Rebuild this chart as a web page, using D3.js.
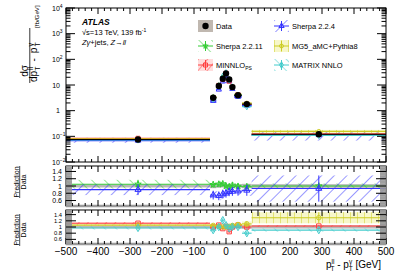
<!DOCTYPE html>
<html>
<head>
<script src="https://d3js.org/d3.v7.min.js"></script>
<style>
  body { margin: 0; background: #fff; overflow: hidden; }
  text { font-family: "Liberation Sans", Arial, sans-serif; fill: #000; }
</style>
</head>
<body>
<svg width="407" height="276"></svg>
<script>
// ---- data ----
const binEdges = [-500, -50, -30, -15, -5, 5, 15, 25, 50, 80, 500];
const dataVals = [0.075, 3.2, 9.1, 17.6, 28, 16.5, 8.3, 4.0, 1.8, 0.12];
const dataRelErr = [0.04, 0.06, 0.05, 0.04, 0.04, 0.04, 0.05, 0.05, 0.06, 0.05];

const sherpa2211Ratio = [1.05, 1.04, 1.05, 1.06, 1.0, 0.98, 1.02, 0.99, 0.98, 1.0];
const sherpa2211Err   = [0.12, 0.08, 0.08, 0.08, 0.08, 0.08, 0.08, 0.08, 0.08, 0.07];
const sherpa224Ratio  = [0.9, 0.75, 0.73, 0.78, 0.8, 0.84, 0.85, 0.86, 0.88, 0.93];
const sherpa224Err    = [0.15, 0.12, 0.12, 0.12, 0.12, 0.12, 0.12, 0.12, 0.15, 0.36];
const minnloRatio     = [1.12, 1.0, 1.06, 0.95, 1.02, 0.85, 1.0, 1.06, 1.0, 1.03];
const minnloErr       = [0.04, 0.04, 0.04, 0.04, 0.04, 0.04, 0.04, 0.04, 0.04, 0.03];
const mg5Ratio        = [1.06, 1.05, 1.02, 1.0, 1.0, 1.02, 1.05, 1.08, 1.1, 1.3];
const mg5Err          = [0.02, 0.05, 0.05, 0.05, 0.05, 0.05, 0.05, 0.05, 0.08, 0.18];
const matrixRatio     = [0.97, 0.9, 1.0, 1.22, 1.06, 0.96, 1.0, 1.0, 0.8, 0.9];
const matrixErr       = [0.05, 0.06, 0.06, 0.06, 0.06, 0.06, 0.06, 0.06, 0.06, 0.05];

const xTicks = [-500, -400, -300, -200, -100, 0, 100, 200, 300, 400, 500];
const yMainTicks = [1e-2, 1e-1, 1, 10, 1e2, 1e3, 1e4];
const yRatioTicks = [0.6, 0.8, 1, 1.2, 1.4];

const models = [
  { name: 'Sherpa 2.2.11', ratio: sherpa2211Ratio, err: sherpa2211Err, color: '#33cc33', pat: 'hGreen', sym: d3.symbolStar, sz: 9, panel: 1 },
  { name: 'Sherpa 2.2.4', ratio: sherpa224Ratio, err: sherpa224Err, color: '#3333ff', pat: 'hBlue', sym: d3.symbolTriangle, sz: 12, panel: 1 },
  { name: 'MINNLO', ratio: minnloRatio, err: minnloErr, color: '#ff4040', pat: 'hRed', sym: d3.symbolSquare, sz: 16, panel: 2 },
  { name: 'MG5_aMC+Pythia8', ratio: mg5Ratio, err: mg5Err, color: '#cccc22', pat: 'hYellow', sym: d3.symbolCircle, sz: 12, panel: 2 },
  { name: 'MATRIX NNLO', ratio: matrixRatio, err: matrixErr, color: '#44cccc', pat: 'hCyan', sym: d3.symbolDiamond, sz: 12, panel: 2 }
];

const svg = d3.select('svg');
const L = 66, R = 386;
const x = d3.scaleLinear().domain([-500, 500]).range([L, R]);
const yMain = d3.scaleLog().domain([1e-2, 1e4]).range([162, 8]);
const yR1 = d3.scaleLinear().domain([0.45, 1.55]).range([206, 166]);
const yR2 = d3.scaleLinear().domain([0.45, 1.55]).range([244, 210]);

const bins = dataVals.map((v, i) => ({ i, x0: binEdges[i], x1: binEdges[i + 1], xc: (binEdges[i] + binEdges[i + 1]) / 2, v }));

// hatch patterns
const defs = svg.append('defs');
const hatch = (id, color, angle, gap, fill) => {
  const p = defs.append('pattern').attr('id', id).attr('patternUnits', 'userSpaceOnUse')
    .attr('width', gap).attr('height', gap).attr('patternTransform', `rotate(${angle})`);
  if (fill) p.append('rect').attr('width', gap).attr('height', gap).attr('fill', fill);
  p.append('line').attr('x1', 0).attr('y1', 0).attr('x2', 0).attr('y2', gap)
    .attr('stroke', color).attr('stroke-width', 1);
};
hatch('hGreen', '#33cc33', -45, 9);
hatch('hBlue', '#3333ff', 45, 9);
hatch('hRed', '#ff4040', 40, 7, 'rgba(255,120,120,0.25)');
hatch('hYellow', '#cccc22', 0, 7, 'rgba(230,230,80,0.3)');
hatch('hCyan', '#44cccc', -45, 8);

const clip = (id, y0, y1) => defs.append('clipPath').attr('id', id)
  .append('rect').attr('x', L).attr('y', y0).attr('width', R - L).attr('height', y1 - y0);
clip('cMain', 8, 162);
clip('cR1', 166, 206);
clip('cR2', 210, 244);

const sym = (type, size) => d3.symbol().type(type).size(size)();

// ---- main panel ----
const gMain = svg.append('g').attr('clip-path', 'url(#cMain)');
models.forEach(m => {
  gMain.selectAll(null).data(bins).enter().append('rect')
    .attr('x', d => x(d.x0)).attr('width', d => x(d.x1) - x(d.x0))
    .attr('y', d => yMain(d.v * (m.ratio[d.i] + m.err[d.i])))
    .attr('height', d => yMain(d.v * (m.ratio[d.i] - m.err[d.i])) - yMain(d.v * (m.ratio[d.i] + m.err[d.i])))
    .attr('fill', `url(#${m.pat})`);
});
models.forEach(m => {
  gMain.selectAll(null).data(bins).enter().append('line')
    .attr('x1', d => x(d.x0)).attr('x2', d => x(d.x1))
    .attr('y1', d => yMain(d.v * m.ratio[d.i])).attr('y2', d => yMain(d.v * m.ratio[d.i]))
    .attr('stroke', m.color).attr('stroke-width', 1.2);
  gMain.selectAll(null).data(bins).enter().append('path')
    .attr('d', sym(m.sym, m.sz))
    .attr('transform', d => `translate(${x(d.xc)},${yMain(d.v * m.ratio[d.i])})`)
    .attr('fill', 'none').attr('stroke', m.color).attr('stroke-width', 1);
});
gMain.selectAll(null).data(bins).enter().append('line')
  .attr('x1', d => x(d.x0)).attr('x2', d => x(d.x1))
  .attr('y1', d => yMain(d.v)).attr('y2', d => yMain(d.v))
  .attr('stroke', '#000').attr('stroke-width', 1);
gMain.selectAll(null).data(bins).enter().append('circle')
  .attr('cx', d => x(d.xc)).attr('cy', d => yMain(d.v)).attr('r', 3.2).attr('fill', '#000');

// ---- ratio panels ----
[[1, yR1, 'cR1'], [2, yR2, 'cR2']].forEach(([pn, y, cid]) => {
  const g = svg.append('g').attr('clip-path', `url(#${cid})`);
  g.selectAll(null).data(bins).enter().append('rect')
    .attr('x', d => x(d.x0)).attr('width', d => x(d.x1) - x(d.x0))
    .attr('y', d => y(1 + dataRelErr[d.i])).attr('height', d => y(1 - dataRelErr[d.i]) - y(1 + dataRelErr[d.i]))
    .attr('fill', '#b8b8b8');
  models.filter(m => m.panel === pn).forEach(m => {
    g.selectAll(null).data(bins).enter().append('rect')
      .attr('x', d => x(d.x0)).attr('width', d => x(d.x1) - x(d.x0))
      .attr('y', d => y(m.ratio[d.i] + m.err[d.i]))
      .attr('height', d => y(m.ratio[d.i] - m.err[d.i]) - y(m.ratio[d.i] + m.err[d.i]))
      .attr('fill', `url(#${m.pat})`);
    g.selectAll(null).data(bins).enter().append('line')
      .attr('x1', d => x(d.x0)).attr('x2', d => x(d.x1))
      .attr('y1', d => y(m.ratio[d.i])).attr('y2', d => y(m.ratio[d.i]))
      .attr('stroke', m.color).attr('stroke-width', 1.1);
    g.selectAll(null).data(bins).enter().append('line')
      .attr('x1', d => x(d.xc)).attr('x2', d => x(d.xc))
      .attr('y1', d => y(m.ratio[d.i] + m.err[d.i])).attr('y2', d => y(m.ratio[d.i] - m.err[d.i]))
      .attr('stroke', m.color).attr('stroke-width', 1);
    g.selectAll(null).data(bins).enter().append('path')
      .attr('d', sym(m.sym, m.sz + 4))
      .attr('transform', d => `translate(${x(d.xc)},${y(m.ratio[d.i])})`)
      .attr('fill', 'none').attr('stroke', m.color).attr('stroke-width', 1);
  });
});

// ---- frames and ticks ----
const frame = (y0, y1) => svg.append('rect').attr('x', L).attr('y', y0).attr('width', R - L).attr('height', y1 - y0)
  .attr('fill', 'none').attr('stroke', '#000').attr('stroke-width', 1);
frame(8, 162); frame(166, 206); frame(210, 244);
svg.append('line').attr('x1', L).attr('x2', R).attr('y1', 206).attr('y2', 206).attr('stroke', '#999').attr('stroke-width', 2.5);
svg.append('line').attr('x1', L).attr('x2', R).attr('y1', 244).attr('y2', 244).attr('stroke', '#999').attr('stroke-width', 2.5);

const tk = svg.append('g').attr('stroke', '#000').attr('stroke-width', 1);
const xMinor = d3.range(-500, 501, 20);
[[8, 162], [166, 206], [210, 244]].forEach(([y0, y1]) => {
  xMinor.forEach(v => {
    const len = v % 100 === 0 ? 6 : 3;
    tk.append('line').attr('x1', x(v)).attr('x2', x(v)).attr('y1', y1).attr('y2', y1 - len);
    tk.append('line').attr('x1', x(v)).attr('x2', x(v)).attr('y1', y0).attr('y2', y0 + len);
  });
});
// log ticks main
for (let e = -2; e < 4; e++) {
  for (let k = 1; k < 10; k++) {
    const v = k * Math.pow(10, e);
    const len = k === 1 ? 9 : 4.5;
    tk.append('line').attr('x1', L).attr('x2', L + len).attr('y1', yMain(v)).attr('y2', yMain(v));
    tk.append('line').attr('x1', R).attr('x2', R - len).attr('y1', yMain(v)).attr('y2', yMain(v));
  }
}
tk.append('line').attr('x1', L).attr('x2', L + 9).attr('y1', yMain(1e4)).attr('y2', yMain(1e4));
tk.append('line').attr('x1', R).attr('x2', R - 9).attr('y1', yMain(1e4)).attr('y2', yMain(1e4));
// ratio ticks
[yR1, yR2].forEach(y => {
  d3.range(0.46, 1.55, 0.02).forEach(v => {
    tk.append('line').attr('x1', L).attr('x2', L + 6).attr('y1', y(v)).attr('y2', y(v)).attr('stroke', '#999');
    tk.append('line').attr('x1', R).attr('x2', R - 6).attr('y1', y(v)).attr('y2', y(v)).attr('stroke', '#999');
  });
  yRatioTicks.forEach(v => {
    tk.append('line').attr('x1', L).attr('x2', L + 10).attr('y1', y(v)).attr('y2', y(v));
    tk.append('line').attr('x1', R).attr('x2', R - 10).attr('y1', y(v)).attr('y2', y(v));
  });
});

// ---- tick labels ----
svg.selectAll(null).data(xTicks).enter().append('text')
  .attr('x', d => x(d)).attr('y', 255).attr('text-anchor', 'middle').attr('font-size', 10)
  .text(d => d < 0 ? '\u2212' + (-d) : d);
yMainTicks.forEach(v => {
  const e = Math.round(Math.log10(v));
  const t = svg.append('text').attr('y', yMain(v) + 2.5).attr('font-size', 7);
  if (e === 0) t.attr('x', 60).attr('text-anchor', 'end').text('1');
  else if (e === 1) t.attr('x', 60).attr('text-anchor', 'end').text('10');
  else {
    t.attr('x', 52);
    t.append('tspan').text('10');
    t.append('tspan').attr('dy', -3).attr('font-size', 5).text(e < 0 ? '\u2212' + (-e) : e);
  }
});
[[yR1, 7], [yR2, 5.8]].forEach(([y, fs]) => {
  svg.selectAll(null).data(yRatioTicks).enter().append('text')
    .attr('x', 62).attr('y', d => y(d) + fs * 0.36).attr('text-anchor', 'end').attr('font-size', fs)
    .text(d => d === 1 ? '1' : d.toFixed(1));
});

// ---- axis titles ----
const xt = svg.append('text').attr('x', 326).attr('y', 268).attr('font-size', 10);
xt.append('tspan').text('p');
xt.append('tspan').attr('dy', -4).attr('font-size', 6.5).text('ll');
xt.append('tspan').attr('dx', -4).attr('dy', 7).attr('font-size', 6.5).text('T');
xt.append('tspan').attr('dy', -3).text(' - p');
xt.append('tspan').attr('dy', -4).attr('font-size', 6.5).text('\u03b3');
xt.append('tspan').attr('dx', -3.5).attr('dy', 7).attr('font-size', 6.5).text('T');
xt.append('tspan').attr('dy', -3).text(' [GeV]');

const yt = svg.append('g');
yt.append('text').attr('transform', 'translate(28,71) rotate(-90)').attr('text-anchor', 'middle')
  .attr('font-size', 10).text('d\u03c3');
yt.append('line').attr('x1', 29.8).attr('x2', 29.8).attr('y1', 83).attr('y2', 28).attr('stroke', '#000').attr('stroke-width', 0.8);
const den = yt.append('text').attr('transform', 'translate(37,82) rotate(-90)').attr('font-size', 10);
den.append('tspan').text('dp');
den.append('tspan').attr('dx', 1).attr('dy', -4).attr('font-size', 7).text('ll');
den.append('tspan').attr('dx', -4).attr('dy', 7).attr('font-size', 7).text('T');
den.append('tspan').attr('dx', 5).attr('dy', -3).text('-');
den.append('tspan').attr('dx', 5).text('p');
den.append('tspan').attr('dx', 1).attr('dy', -4).attr('font-size', 7).text('\u03b3');
den.append('tspan').attr('dx', -3.5).attr('dy', 7).attr('font-size', 7).text('T');
yt.append('text').attr('transform', 'translate(38.5,28) rotate(-90)').attr('font-size', 6.2).text('[fb/GeV]');

[[182, 18.5], [230, 18.5]].forEach(([cy, bx]) => {
  svg.append('text').attr('transform', `translate(${bx},${cy}) rotate(-90)`).attr('text-anchor', 'middle')
    .attr('font-size', 7).text('Prediction');
  svg.append('line').attr('x1', bx + 1.2).attr('x2', bx + 1.2).attr('y1', cy - 16).attr('y2', cy + 16)
    .attr('stroke', '#000').attr('stroke-width', 0.7);
  svg.append('text').attr('transform', `translate(${bx + 7.5},${cy}) rotate(-90)`).attr('text-anchor', 'middle')
    .attr('font-size', 7).text('Data');
});

// ---- ATLAS label ----
svg.append('text').attr('x', 82).attr('y', 25).attr('font-size', 8.5).attr('font-weight', 'bold')
  .attr('font-style', 'italic').text('ATLAS');
const s = svg.append('text').attr('x', 82).attr('y', 35).attr('font-size', 7.5);
s.append('tspan').text('\u221as=13 TeV, 139 fb');
s.append('tspan').attr('dy', -3).attr('font-size', 5).text('-1');
svg.append('text').attr('x', 82).attr('y', 45).attr('font-size', 7.5)
  .html('<tspan font-style="italic">Z\u03b3</tspan>+jets,  <tspan font-style="italic">Z</tspan>\u2192<tspan font-style="italic">ll</tspan>');

// ---- legend ----
const leg = [
  { x: 198, y: 20, label: 'Data', m: null },
  { x: 198, y: 40, label: 'Sherpa 2.2.11', m: models[0] },
  { x: 198, y: 59, label: 'MINNLO', sub: 'PS', m: models[2] },
  { x: 274, y: 20, label: 'Sherpa 2.2.4', m: models[1] },
  { x: 274, y: 40, label: 'MG5_aMC+Pythia8', m: models[3] },
  { x: 274, y: 59, label: 'MATRIX NNLO', m: models[4] }
];
leg.forEach(d => {
  const g = svg.append('g').attr('transform', `translate(${d.x},${d.y})`);
  if (!d.m) {
    g.append('rect').attr('width', 15).attr('height', 12).attr('fill', '#c0b8b0');
    g.append('circle').attr('cx', 7.5).attr('cy', 6).attr('r', 3.2).attr('fill', '#000');
  } else {
    g.append('rect').attr('width', 15).attr('height', 12).attr('fill', `url(#${d.m.pat})`);
    g.append('line').attr('x1', 0).attr('x2', 15).attr('y1', 6).attr('y2', 6).attr('stroke', d.m.color);
    g.append('line').attr('x1', 7.5).attr('x2', 7.5).attr('y1', 1).attr('y2', 11).attr('stroke', d.m.color);
    g.append('path').attr('d', sym(d.m.sym, d.m.sz)).attr('transform', 'translate(7.5,6)')
      .attr('fill', 'none').attr('stroke', d.m.color).attr('stroke-width', 1);
  }
  const t = g.append('text').attr('x', 18).attr('y', 8.5).attr('font-size', 7.5).text(d.label);
  if (d.sub) t.append('tspan').attr('dy', 2.5).attr('font-size', 5).text(d.sub);
});
</script>
</body>
</html>
